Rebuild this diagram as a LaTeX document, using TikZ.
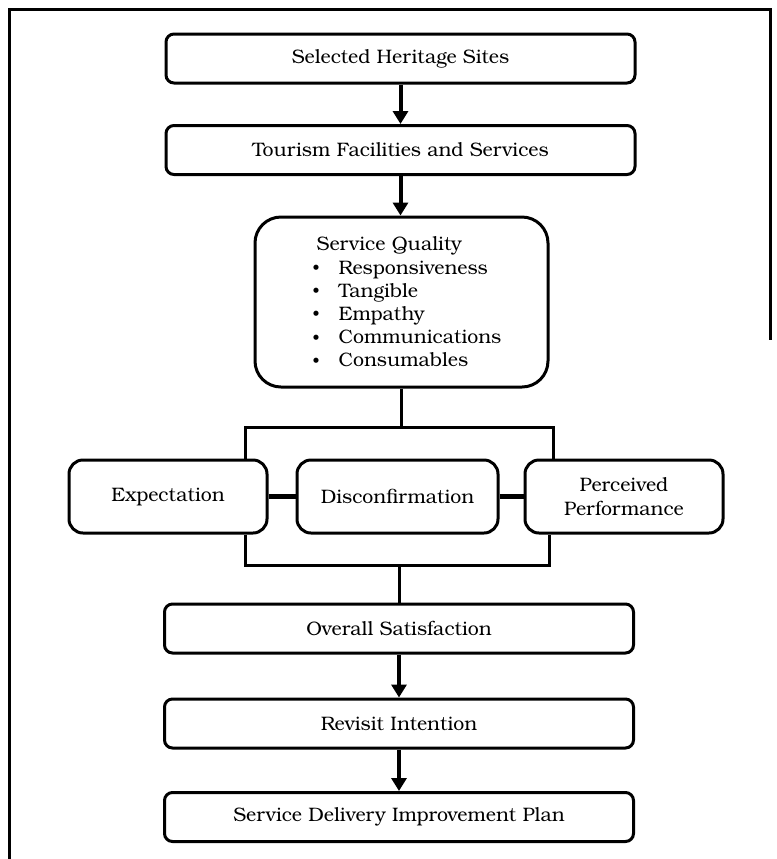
\documentclass[tikz,border=0pt]{standalone}
\usepackage{fontspec}
\newfontfamily\bonum{texgyrebonum-regular.otf}
\usetikzlibrary{arrows.meta}
\newcommand{\sqitem}[1]{\hspace*{5.5pt}\makebox[13pt][l]{\raisebox{0.3pt}{\fontsize{7.5}{7.5}\selectfont\textbullet}}#1}
\begin{document}
\begin{tikzpicture}[x=0.5pt,y=-0.5pt,
  box/.style={draw, line width=1.5pt, rounded corners=4pt, minimum width=234.5pt, minimum height=24.5pt, inner sep=0pt, font=\bonum\fontsize{9.75}{12}\selectfont},
  rowbox/.style={draw, line width=1.5pt, rounded corners=7pt, minimum width=99pt, minimum height=36.5pt, inner sep=0pt, align=center, font=\bonum\fontsize{9.75}{12}\selectfont},
  sqbox/.style={draw, line width=1.5pt, rounded corners=13pt, minimum width=146.5pt, minimum height=85pt, inner sep=0pt, align=left, font=\bonum\fontsize{9.75}{11.6}\selectfont},
  arr/.style={line width=2pt, -{Triangle[length=6.5pt,width=7.5pt]}},
  conn/.style={line width=1.5pt},
  bar/.style={line width=2.5pt},
  framing/.style={line width=1.5pt}
]
\useasboundingbox (0,0) rectangle (777,859);
\coordinate (f1) at (9.5,859);
\coordinate (f2) at (9.5,9.5);
\coordinate (f3) at (770,9.5);
\coordinate (f4) at (770,340);
\draw[framing] (f1) -- (f2) -- (f3) -- (f4);

\node[box] (sites) at (400.5,58.5) {Selected Heritage Sites};
\node[box] (fac) at (400.5,150) {Tourism Facilities and Services};
\node[sqbox] (sq) at (401.5,302) {\hspace*{7.5pt}Service Quality\\
\sqitem{Responsiveness}\\
\sqitem{Tangible}\\
\sqitem{Empathy}\\
\sqitem{Communications}\\
\sqitem{Consumables}};
\node[rowbox] (exp) at (168,496.5) {Expectation};
\node[rowbox, minimum width=100.5pt] (dis) at (397.5,496.5) {Disconfirmation};
\node[rowbox] (perf) at (624,496.5) {Perceived\\Performance};
\node[box] (sat) at (399,628.5) {Overall Satisfaction};
\node[box] (rev) at (399,723.5) {Revisit Intention};
\node[box] (sdip) at (399,817) {Service Delivery Improvement Plan};

\coordinate (tl) at (245,427);
\coordinate (tr) at (553,427);
\coordinate (bl) at (245,565);
\coordinate (br) at (549,565);

\draw[arr] (sites.south) -- (fac.north);
\draw[arr] (fac.south) -- (fac.south |- sq.north);
\draw[conn] (sq.south) -- (sq.south |- tl);
\draw[conn] (tl |- exp.north) -- (tl) -- (tr) -- (tr |- perf.north);
\draw[conn] (bl |- exp.south) -- (bl) -- (br) -- (br |- perf.south);
\draw[conn] (sat.north |- bl) -- (sat.north);
\draw[bar] (exp.east) -- (dis.west);
\draw[bar] (dis.east) -- (perf.west);
\draw[arr] (sat.south) -- (rev.north);
\draw[arr] (rev.south) -- (sdip.north);
\end{tikzpicture}
\end{document}
